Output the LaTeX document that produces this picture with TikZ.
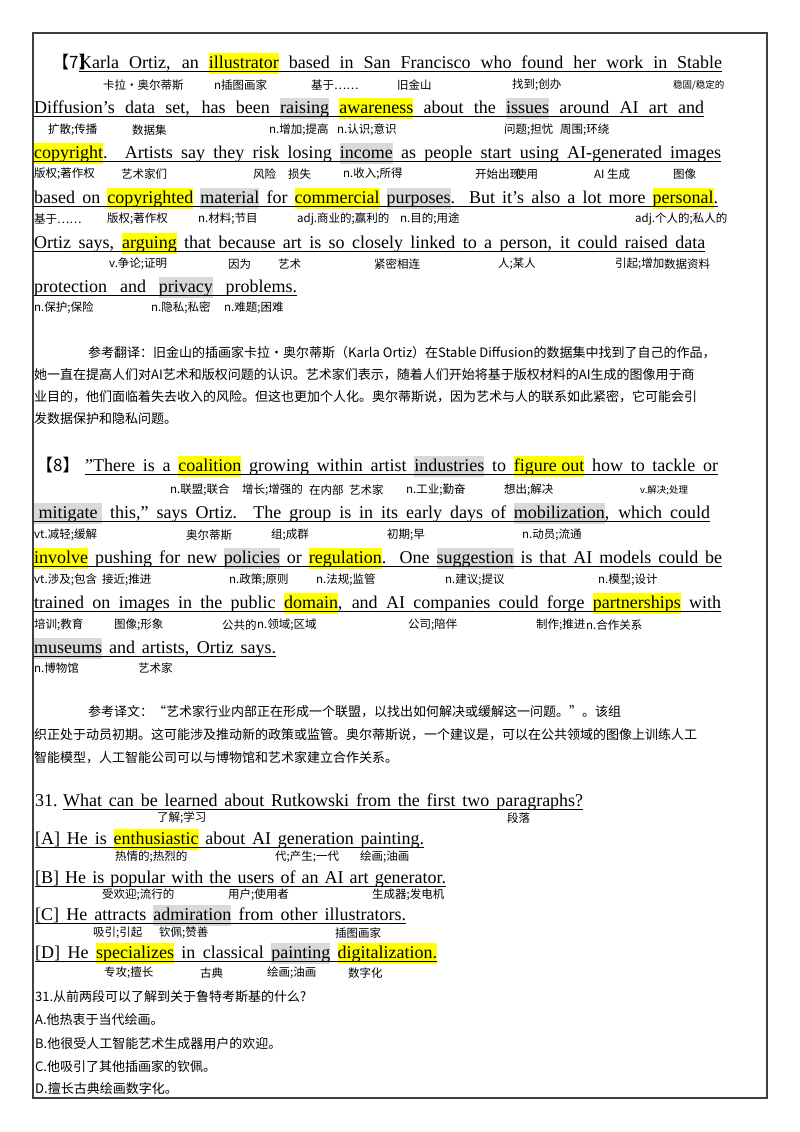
\documentclass[tikz,border=0pt]{standalone}
\usepackage{fontspec}
\usepackage{graphicx}
\setmainfont{Liberation Serif}
\newfontfamily\cjk{Noto Sans CJK SC}
\definecolor{hly}{HTML}{FFFF00}
\definecolor{hlg}{HTML}{D9D9D9}
\newcommand\hy[1]{{\setlength{\fboxsep}{0pt}\colorbox{hly}{\strut #1}}}
\newcommand\hg[1]{{\setlength{\fboxsep}{0pt}\colorbox{hlg}{\strut #1}}}
\newsavebox\jbox
\newcommand\jline[2]{\sbox\jbox{#2}\ifdim\wd\jbox>#1\relax\resizebox{#1}{\height}{\usebox\jbox}\else\makebox[#1][s]{#2}\fi}
\newcommand\cjline[2]{\sbox\jbox{#2}\ifdim\wd\jbox>#1\relax\resizebox{#1}{\height}{\usebox\jbox}\else\makebox[#1][l]{#2}\fi}
\begin{document}
\begin{tikzpicture}[x=1pt,y=-1pt,
  en/.style={anchor=base west,inner sep=0pt,font=\fontsize{18}{21}\selectfont},
  an/.style={anchor=west,inner sep=0pt,font=\cjk\fontsize{11.5}{13}\selectfont},
  tr/.style={anchor=base west,inner sep=0pt,font=\cjk\fontsize{13}{15}\selectfont},
  ul/.style={line width=0.6pt}]
\useasboundingbox (0,0) rectangle (800,1132);
\draw[line width=1.3pt,black!75] (33,33) rectangle (767,1098);
% ---------- paragraph 7
\node[en,font=\cjk\fontsize{17}{20}\selectfont] (p7tag) at (52,68) {【7】};
\node[en] (p7a) at (79,68) {\jline{643pt}{Karla Ortiz, an \hy{illustrator} based in San Francisco who found her work in Stable}};
\node[en] (p7b) at (34,113) {\jline{670pt}{Diffusion's data set, has been \hg{raising} \hy{awareness} about the \hg{issues} around AI art and}};
\node[en] (p7c) at (34,158) {\jline{687pt}{\hy{copyright}. Artists say they risk losing \hg{income} as people start using AI-generated images}};
\node[en] (p7d) at (34,203) {\jline{684pt}{based on \hy{copyrighted} \hg{material} for \hy{commercial} \hg{purposes}. But it's also a lot more \hy{personal}.}};
\node[en] (p7e) at (34,248) {\jline{671pt}{Ortiz says, \hy{arguing} that because art is so closely linked to a person, it could raised data}};
\node[en] (p7f) at (34,292) {\jline{263pt}{protection and \hg{privacy} problems.}};
\foreach \n in {p7a,p7b,p7c,p7d,p7e,p7f}
  \draw[ul] ([yshift=-3pt]\n.base west) -- ([yshift=-3pt]\n.base east);
\foreach \x/\y/\tx [count=\i] in {103/85/卡拉·奥尔蒂斯,214/85/n插图画家,311/85/基于……,397/85/旧金山,512/85/找到;创办,
  48/130/扩散;传播,132/130/数据集,269/130/n.增加;提高,337/130/n.认识;意识,504/130/问题;担忧,560/130/周围;环绕,
  34/174/版权;著作权,121/174/艺术家们,253/174/风险,288/174/损失,343/174/n.收入;所得,475/174/开始出现,515/174/使用,594/174/AI 生成,673/174/图像,
  34/219/基于……,107/219/版权;著作权,198/219/n.材料;节目,297/219/adj.商业的;赢利的,400/219/n.目的;用途,635/219/adj.个人的;私人的,
  109/264/v.争论;证明,228/264/因为,278/264/艺术,374/264/紧密相连,498/264/人;某人,615/264/引起;增加,664/264/数据资料,
  34/308/n.保护;保险,151/308/n.隐私;私密,224/308/n.难题;困难}
  \node[an] (a7n\i) at (\x,\y) {\tx};
\node[an,font=\cjk\fontsize{9.5}{11}\selectfont] (a7s) at (673,85) {稳固/稳定的};
% translation 1
\node[tr] (t1a) at (88,357) {\cjline{633pt}{参考翻译：旧金山的插画家卡拉·奥尔蒂斯（Karla Ortiz）在Stable Diffusion的数据集中找到了自己的作品，}};
\node[tr] (t1b) at (34,379) {\cjline{687pt}{她一直在提高人们对AI艺术和版权问题的认识。艺术家们表示，随着人们开始将基于版权材料的AI生成的图像用于商}};
\node[tr] (t1c) at (34,401) {\cjline{687pt}{业目的，他们面临着失去收入的风险。但这也更加个人化。奥尔蒂斯说，因为艺术与人的联系如此紧密，它可能会引}};
\node[tr] (t1d) at (34,423) {发数据保护和隐私问题。};
% ---------- paragraph 8
\node[en,font=\cjk\fontsize{17}{20}\selectfont] (p8tag) at (36,471) {【8】};
\node[en] (p8a) at (85,471) {\jline{633pt}{"There is a \hy{coalition} growing within artist \hg{industries} to \hy{figure out} how to tackle or}};
\node[en] (p8b) at (34,518) {\jline{676pt}{\hg{\ mitigate\ } this," says Ortiz. The group is in its early days of \hg{mobilization}, which could}};
\node[en] (p8c) at (34,563) {\jline{688pt}{\hy{involve} pushing for new \hg{policies} or \hy{regulation}. One \hg{suggestion} is that AI models could be}};
\node[en] (p8d) at (34,608) {\jline{687pt}{trained on images in the public \hy{domain}, and AI companies could forge \hy{partnerships} with}};
\node[en] (p8e) at (34,653) {\jline{242pt}{\hg{museums} and artists, Ortiz says.}};
\foreach \n in {p8a,p8b,p8c,p8d,p8e}
  \draw[ul] ([yshift=-3pt]\n.base west) -- ([yshift=-3pt]\n.base east);
\foreach \x/\y/\tx [count=\i] in {170/490/n.联盟;联合,242/490/增长;增强的,309/490/在内部,349/490/艺术家,406/490/n.工业;勤奋,504/490/想出;解决,
  34/535/vt.减轻;缓解,186/535/奥尔蒂斯,271/535/组;成群,387/535/初期;早,522/535/n.动员;流通,
  34/580/vt.涉及;包含,102/580/接近;推进,229/580/n.政策;原则,316/580/n.法规;监管,445/580/n.建议;提议,598/580/n.模型;设计,
  34/625/培训;教育,114/625/图像;形象,222/625/公共的,257/625/n.领域;区域,408/625/公司;陪伴,536/625/制作;推进,586/625/n.合作关系,
  34/668/n.博物馆,138/668/艺术家}
  \node[an] (a8n\i) at (\x,\y) {\tx};
\node[an,font=\cjk\fontsize{9.5}{11}\selectfont] (a8s) at (640,490) {v.解决;处理};
% translation 2
\node[tr] (t2a) at (88,716) {\cjline{633pt}{参考译文：“艺术家行业内部正在形成一个联盟，以找出如何解决或缓解这一问题。”。该组}};
\node[tr] (t2b) at (34,739) {\cjline{687pt}{织正处于动员初期。这可能涉及推动新的政策或监管。奥尔蒂斯说，一个建议是，可以在公共领域的图像上训练人工}};
\node[tr] (t2c) at (34,762) {智能模型，人工智能公司可以与博物馆和艺术家建立合作关系。};
% ---------- question
\node[en] (q0) at (35,806) {31.};
\node[en] (q1) at (63,806) {\jline{520pt}{What can be learned about Rutkowski from the first two paragraphs?}};
\node[en] (qa) at (35,844) {\jline{389pt}{[A] He is \hy{enthusiastic} about AI generation painting.}};
\node[en] (qb) at (35,883) {\jline{411pt}{[B] He is popular with the users of an AI art generator.}};
\node[en] (qc) at (35,920) {\jline{371pt}{[C] He attracts \hg{admiration} from other illustrators.}};
\node[en] (qd) at (35,958) {\jline{402pt}{[D] He \hy{specializes} in classical \hg{painting} \hy{digitalization.}}};
\foreach \n in {q1,qa,qb,qc,qd}
  \draw[ul] ([yshift=-3pt]\n.base west) -- ([yshift=-3pt]\n.base east);
\foreach \x/\y/\tx [count=\i] in {157/818/了解;学习,507/818/段落,
  115/857/热情的;热烈的,275/857/代;产生;一代,360/857/绘画;油画,
  102/895/受欢迎;流行的,228/895/用户;使用者,372/895/生成器;发电机,
  93/933/吸引;引起,159/933/钦佩;赞善,335/933/插图画家,
  104/973/专攻;擅长,200/973/古典/经典的,267/973/绘画;油画,348/973/数字化}
  \node[an] (aqn\i) at (\x,\y) {\tx};
\node[tr] (c0) at (35,1001) {31.从前两段可以了解到关于鲁特考斯基的什么?};
\node[tr] (c1) at (35,1024) {A.他热衷于当代绘画。};
\node[tr] (c2) at (35,1048) {B.他很受人工智能艺术生成器用户的欢迎。};
\node[tr] (c3) at (35,1071) {C.他吸引了其他插画家的钦佩。};
\node[tr] (c4) at (35,1093) {D.擅长古典绘画数字化。};
\end{tikzpicture}
\end{document}
